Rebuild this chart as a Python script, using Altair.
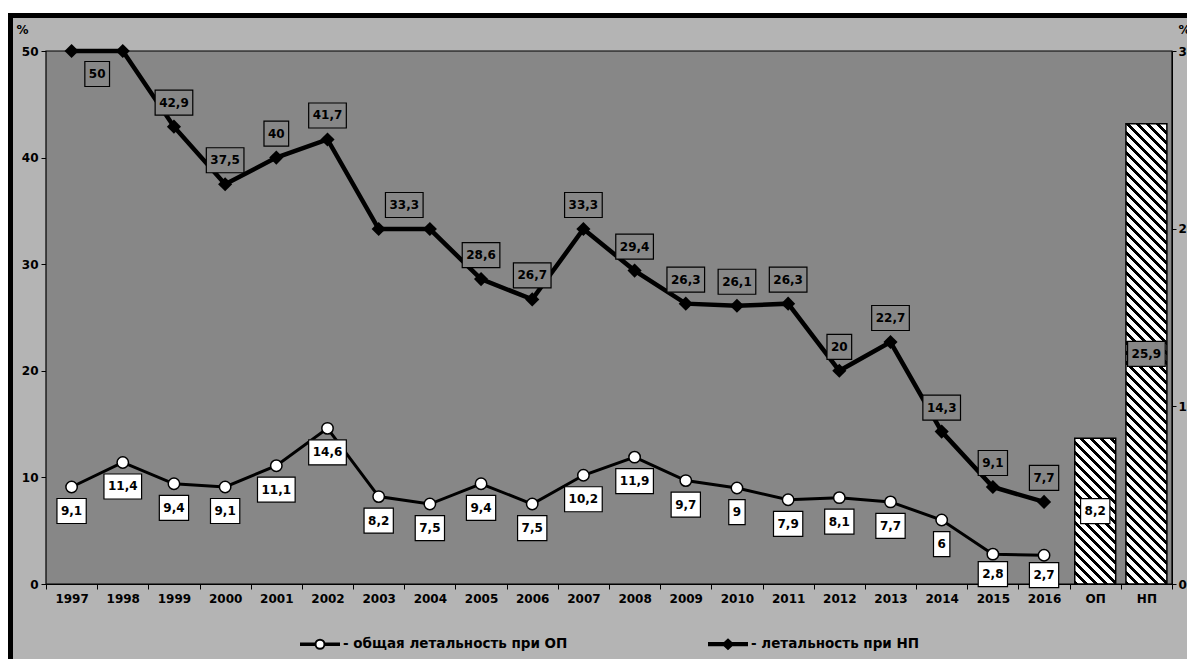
import altair as alt
import pandas as pd

# ---------------- data ----------------
years = [str(y) for y in range(1997, 2017)]
op_vals = [9.1, 11.4, 9.4, 9.1, 11.1, 14.6, 8.2, 7.5, 9.4, 7.5,
           10.2, 11.9, 9.7, 9, 7.9, 8.1, 7.7, 6, 2.8, 2.7]
np_vals = [50, 50, 42.9, 37.5, 40, 41.7, 33.3, 33.3, 28.6, 26.7,
           33.3, 29.4, 26.3, 26.1, 26.3, 20, 22.7, 14.3, 9.1, 7.7]
bar_cats = ["ОП", "НП"]
bar_vals = [8.2, 25.9]
x_domain = years + bar_cats
left_ticks = [0, 10, 20, 30, 40, 50]
right_ticks = [0, 10, 20, 30]
legend_labels = ["- общая летальность при ОП", "- летальность при НП"]

# ---------------- layout / style ----------------
W, H = 1126, 533
PAD = {"left": 38, "top": 43, "right": 15, "bottom": 75}
BG = "#b4b4b4"
PLOT = "#878787"
FONT = "DejaVu Sans"
BAND = W / len(x_domain)
R = 20  # half-size of label box symbol (size = (2R)^2)


def fmt(v):
    return f"{v:g}".replace(".", ",")


def box_path(text):
    w = sum(4.6 if c == "," else 8.35 for c in text) + 8
    a = w / 2 / R
    b = 12.5 / R
    return f"M{-a:.3f},{-b:.3f}H{a:.3f}V{b:.3f}H{-a:.3f}Z"


xs = alt.Scale(domain=x_domain, type="band", paddingInner=0, paddingOuter=0)
yL = alt.Scale(domain=[0, 50], nice=False)
yR = alt.Scale(domain=[0, 30], nice=False)

axis_common = dict(labelFont=FONT, labelFontSize=12, labelFontWeight="bold",
                   labelColor="black", tickColor="black", domainColor="black",
                   grid=False)
x_axis = alt.Axis(title=None, labelAngle=0, tickBand="extent", orient="bottom",
                  labelPadding=4, tickSize=5, **axis_common)
left_axis = alt.Axis(title="%", titleAngle=0, titleX=-24, titleY=-22,
                     titleAlign="center", titleBaseline="middle",
                     titleFont=FONT, titleFontSize=12, titleFontWeight="bold",
                     titleColor="black", values=left_ticks, orient="left",
                     labelPadding=3, tickSize=5, **axis_common)
right_axis = alt.Axis(title="%", titleAngle=0, titleX=6, titleY=-22,
                      titleAlign="left", titleBaseline="middle",
                      titleFont=FONT, titleFontSize=12, titleFontWeight="bold",
                      titleColor="black", values=right_ticks, orient="right",
                      labelPadding=2, tickSize=4, **axis_common)

X = alt.X("cat:N", scale=xs, axis=x_axis, sort=x_domain)


def YL(field="value"):
    return alt.Y(f"{field}:Q", scale=yL, axis=left_axis)


def YR(field="value"):
    return alt.Y(f"{field}:Q", scale=yR, axis=right_axis)


# ---------------- tables ----------------
op_df = pd.DataFrame({"cat": years, "value": op_vals})
np_df = pd.DataFrame({"cat": years, "value": np_vals})
bar_df = pd.DataFrame({"cat": bar_cats, "value": bar_vals})
bar_df["mid"] = bar_df["value"] / 2

for d in (op_df, np_df, bar_df):
    d["text"] = d["value"].map(fmt)
    d["path"] = d["text"].map(box_path)

# ---------------- line layers ----------------
op_line = alt.Chart(op_df).mark_line(color="black", strokeWidth=3).encode(x=X, y=YL())
np_line = alt.Chart(np_df).mark_line(color="black", strokeWidth=4.5).encode(x=X, y=YL())
op_pts = alt.Chart(op_df).mark_point(shape="circle", filled=True, fill="white",
                                     stroke="black", strokeWidth=1.5,
                                     size=130, opacity=1).encode(x=X, y=YL())
np_pts = alt.Chart(np_df).mark_point(shape="diamond", filled=True,
                                     color="black", size=200,
                                     opacity=1).encode(x=X, y=YL())


def label_layers(df, yenc, dx, dy, fill):
    out = []
    for path, sub in df.groupby("path", sort=False):
        base = alt.Chart(sub).encode(x=X, y=yenc)
        out.append(base.mark_point(shape=path, size=(2 * R) ** 2, filled=True,
                                   fill=fill, stroke="black", strokeWidth=1.2,
                                   opacity=1, xOffset=dx, yOffset=dy))
        out.append(base.mark_text(font=FONT, fontSize=12, fontWeight="bold",
                                  color="black", align="center",
                                  baseline="middle", dx=dx, dy=dy).encode(
            text="text:N"))
    return out


op_low = ["2015", "2016"]
np_skip = ["1998", "2004"]
np_mid_below = ["1997"]
np_mid_above = ["2003"]

labelsA = []
labelsA += label_layers(op_df[~op_df.cat.isin(op_low)], YL(), 0, 24, "white")
labelsA += label_layers(op_df[op_df.cat.isin(op_low)], YL(), 0, 20, "white")
np_norm = np_df[~np_df.cat.isin(np_skip + np_mid_below + np_mid_above)]
labelsA += label_layers(np_norm, YL(), 0, -24, PLOT)
labelsA += label_layers(np_df[np_df.cat.isin(np_mid_below)], YL(), BAND / 2, 23, PLOT)
labelsA += label_layers(np_df[np_df.cat.isin(np_mid_above)], YL(), BAND / 2, -24, PLOT)

# ---------------- legend (symbols only, no marks drawn) ----------------
lp_op = ("M-1,-0.04H-0.237V0.04H-1Z M0.237,-0.04H1V0.04H0.237Z "
         "M-0.237,0A0.237,0.237,0,1,1,0.237,0A0.237,0.237,0,1,1,-0.237,0Z")
lp_np = "M-1,-0.06H1V0.06H-1Z M-0.26,0L0,-0.24L0.26,0L0,0.24Z"
leg = alt.Legend(title=None, orient="none", legendX=254, legendY=573,
                 direction="horizontal", columnPadding=137, padding=0,
                 labelFont=FONT, labelFontSize=13.5, labelFontWeight="bold",
                 labelColor="black", labelOffset=3, labelLimit=400,
                 symbolSize=1444, symbolStrokeColor="black",
                 symbolStrokeWidth=2)
legend_df = pd.DataFrame({"series": legend_labels})
legend_layer = alt.Chart(legend_df).transform_filter("false").mark_point(
    filled=True, strokeWidth=2, size=1444, opacity=1
).encode(
    fill=alt.Fill("series:N", scale=alt.Scale(domain=legend_labels,
                                              range=["white", "black"]),
                  legend=leg),
    stroke=alt.Stroke("series:N", scale=alt.Scale(domain=legend_labels,
                                                  range=["black", "black"]),
                      legend=leg),
    shape=alt.Shape("series:N", scale=alt.Scale(domain=legend_labels,
                                                range=[lp_op, lp_np]),
                    legend=leg),
)

layerA = alt.layer(op_line, np_line, op_pts, np_pts, *labelsA, legend_layer)


# ---------------- hatched bars (right axis) ----------------
def hatch(w, h, period=10.0, black=4.0):
    total = w + h
    k = total / (w * w + h * h)
    stops = []
    c = 0.0
    while c < total:
        t0 = c / total
        t1 = min((c + black) / total, 1.0)
        t2 = min((c + period) / total, 1.0)
        stops += [{"offset": t0, "color": "black"},
                  {"offset": t1, "color": "black"},
                  {"offset": t1, "color": "white"},
                  {"offset": t2, "color": "white"}]
        c += period
    return {"gradient": "linear", "x1": 0, "y1": 1,
            "x2": k * w, "y2": 1 - k * h, "stops": stops}


bar_w = BAND * 0.8
bar_layers = []
for cat, val in zip(bar_cats, bar_vals):
    h_px = val / 30 * H
    bar_layers.append(
        alt.Chart(bar_df[bar_df.cat == cat]).mark_bar(
            fill=hatch(bar_w, h_px), stroke="black", strokeWidth=1.5,
            width=alt.RelativeBandSize(0.8)
        ).encode(x=X, y=YR())
    )
labelsB = []
labelsB += label_layers(bar_df[bar_df.cat == "ОП"], YR("mid"), 0, 0, "white")
labelsB += label_layers(bar_df[bar_df.cat == "НП"], YR("mid"), 0, 0, PLOT)
layerB = alt.layer(*bar_layers, *labelsB)

# ---------------- panel background & decorative frame ----------------
one = pd.DataFrame({"k": [0]})
panel = alt.Chart(one).mark_rect(fill=PLOT, stroke="black", strokeWidth=1.2).encode(
    x=alt.value(0), x2=alt.value(W), y=alt.value(0), y2=alt.value(H),
)
frame = alt.Chart(one).mark_rect(fillOpacity=0, stroke="black", strokeWidth=5,
                                 clip=False).encode(
    x=alt.value(-PAD["left"] + 2.5), x2=alt.value(W + PAD["right"] + 20),
    y=alt.value(-PAD["top"] + 7.5), y2=alt.value(H + PAD["bottom"] + 20),
)
strip = alt.Chart(one).mark_rule(stroke="white", strokeWidth=5).encode(
    x=alt.value(-PAD["left"]), x2=alt.value(W + PAD["right"] + 10),
    y=alt.value(-PAD["top"] + 2.5),
)

chart = alt.layer(panel, layerA, layerB, frame, strip).resolve_scale(
    y="independent"
).properties(
    width=W, height=H,
    autosize=alt.AutoSizeParams(type="none"),
    padding=PAD,
    background=BG,
).configure_view(
    stroke=None
).configure_text(font=FONT)

chart.save("out.html", embed_options={"renderer": "svg", "actions": False})
